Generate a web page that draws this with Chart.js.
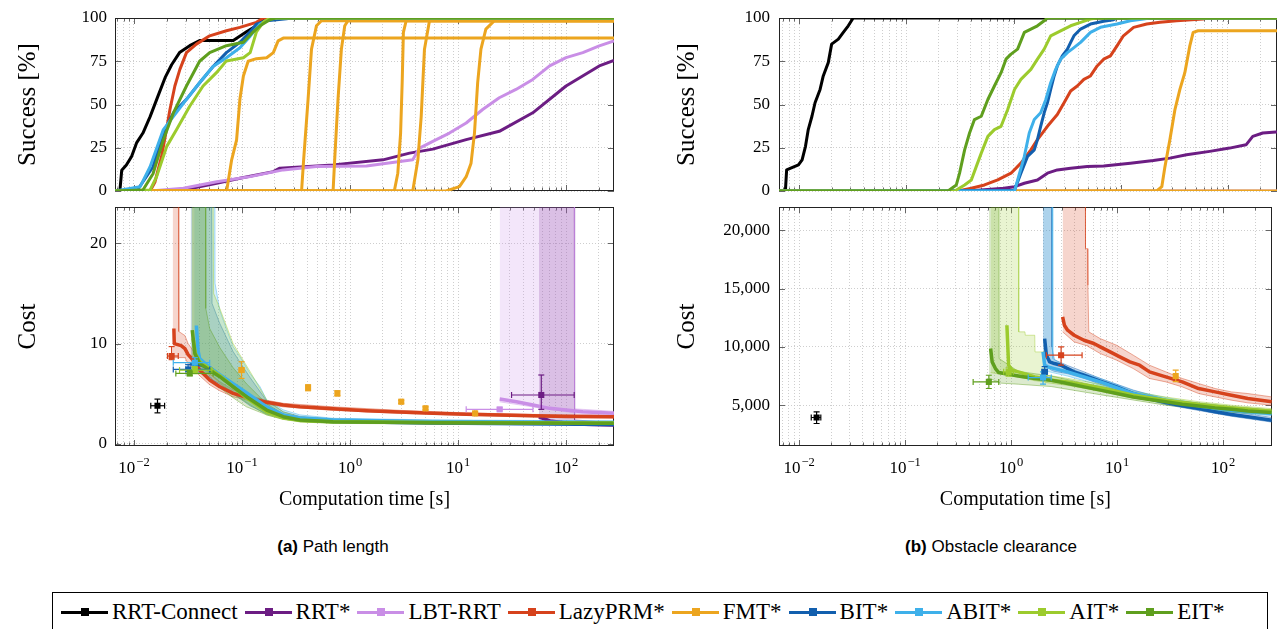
<!DOCTYPE html>
<html>
<head>
<meta charset="utf-8">
<script src="https://cdn.jsdelivr.net/npm/chart.js@4.4.1/dist/chart.umd.min.js"></script>
<style>
body{margin:0;background:#fff;width:1277px;height:629px;overflow:hidden;position:relative}
canvas{position:absolute}
.cap{position:absolute;top:537px;width:420px;text-align:center;font-family:'Liberation Sans',Arial,sans-serif;font-size:17px;color:#000}
#legend{position:absolute;left:52px;top:592px;width:1216px;height:44px;border:1px solid #000;box-sizing:border-box;display:flex;align-items:flex-start;padding:6px 0 0 8px;font-family:'Liberation Serif',serif;font-size:23px;color:#000;white-space:nowrap}
#legend .it{display:flex;align-items:center;margin-right:7px}
#legend .gl{position:relative;width:47px;height:3px;margin-right:4px}
#legend .gl i{position:absolute;left:20px;top:-3px;width:8px;height:8px;background:inherit}
</style>
</head>
<body>
<canvas id="cA1" width="620" height="200" style="left:0;top:0"></canvas>
<canvas id="cA2" width="620" height="310" style="left:0;top:200px"></canvas>
<canvas id="cB1" width="617" height="200" style="left:660px;top:0"></canvas>
<canvas id="cB2" width="617" height="310" style="left:660px;top:200px"></canvas>
<div class="cap" style="left:123px"><b>(a)</b> Path length</div>
<div class="cap" style="left:781px"><b>(b)</b> Obstacle clearance</div>
<div id="legend"></div>
<script>
// planners, legend order
const planners = ['RRT-Connect', 'RRT*', 'LBT-RRT', 'LazyPRM*', 'FMT*', 'BIT*', 'ABIT*', 'AIT*', 'EIT*'];
const colors = ['#000000', '#6c1d83', '#c98ee6', '#d6421c', '#eca51f', '#125fae', '#3eb0ea', '#9ccb2d', '#5f9f1e'];

// axis ticks
const xTickVals = [0.01, 0.1, 1, 10, 100];
const xTickBase = '10';
const xTickExps = ['\u22122', '\u22121', '0', '1', '2'];
const succTicks = [0, 25, 50, 75, 100];
const costTicksA = [0, 10, 20];
const costTicksB = [5000, 10000, 15000, 20000];

// (a) path length, success [%] vs time [s]
const succA_rrtc = [[0.00667,0],[0.0074,0],[0.0077,12],[0.0085,15],[0.0095,20],[0.0106,28],[0.0121,33.5],[0.0141,43],[0.0167,55],[0.0194,65.5],[0.0223,73],[0.0264,80],[0.0328,84],[0.0405,87],[0.083,87],[0.11,92],[0.136,95.5],[0.157,100],[278,100]];
const succA_rrts = [[0.00667,0],[0.0151,0],[0.0287,0.6],[0.0583,4.5],[0.0956,7.4],[0.195,11.2],[0.224,13.2],[0.697,15.1],[2.02,18],[3.56,21.9],[5.84,24.2],[11.9,29.7],[24.1,34.5],[49.2,45.2],[100,60.7],[203,72.3],[278,75.5]];
const succA_lbt = [[0.00667,0],[0.0142,0],[0.0287,1.6],[0.0583,5.4],[0.119,8.3],[0.241,12.2],[0.489,14.1],[1.42,14.5],[3.81,18],[4.4,24.8],[5.84,28.7],[8.32,33.5],[11.9,39.3],[16.9,47.1],[24.1,53.9],[34.4,58.7],[49.2,64.5],[70.5,72.3],[100,77.1],[143,80],[203,83.9],[278,86.8]];
const succA_lazy = [[0.00667,0],[0.0141,0],[0.0156,5],[0.018,20],[0.0201,36.4],[0.0215,47],[0.0239,60.7],[0.0266,70.3],[0.0306,80],[0.0378,84.9],[0.0502,89.7],[0.0717,92.6],[0.0956,94.6],[0.136,97.5],[0.157,100],[278,100]];
const succA_fmt1 = [[0.00667,0],[0.0721,0],[0.0802,18],[0.0891,29.6],[0.0956,53],[0.103,66.5],[0.114,75],[0.136,76.5],[0.169,77],[0.195,80],[0.216,86.8],[0.241,88.4],[278,88.4]];
const succA_fmt2 = [[0.00667,0],[0.356,0],[0.372,18],[0.409,53],[0.44,82],[0.489,95.5],[0.544,98.4],[278,98.4]];
const succA_fmt3 = [[0.00667,0],[0.697,0],[0.721,18],[0.774,53],[0.832,82],[0.894,95.5],[0.956,98.4],[278,98.4]];
const succA_fmt4 = [[0.00667,0],[2.57,0],[2.77,10.3],[2.94,33.5],[3.04,62.6],[3.12,91.7],[3.31,98.4],[278,98.4]];
const succA_fmt5 = [[0.00667,0],[3.81,0],[4.25,18],[4.56,43],[4.89,82],[5.44,98.4],[278,98.4]];
const succA_fmt6 = [[0.00667,0],[7.76,0],[10.3,2.5],[11.9,8.3],[13.2,16.1],[14.2,33.5],[15.2,62.6],[16.3,82],[18.1,93.6],[21.7,98.4],[278,98.4]];
const succA_bit = [[0.00667,0],[0.0106,0],[0.015,14],[0.0187,33.5],[0.0231,45],[0.0306,53],[0.0405,62.6],[0.054,72],[0.0717,80],[0.0956,86],[0.119,92],[0.136,96.5],[0.169,98.4],[0.258,99.5],[0.283,100],[278,100]];
const succA_abit = [[0.00667,0],[0.0114,2.5],[0.0141,14],[0.0187,35.5],[0.0231,43],[0.0306,53],[0.0405,62.6],[0.054,72],[0.0717,77],[0.0956,82.8],[0.119,89.5],[0.147,96.5],[0.181,99.4],[0.221,100],[278,100]];
const succA_ait = [[0.00667,0],[0.0141,0.6],[0.0162,8.3],[0.0201,25.8],[0.0248,35.5],[0.0328,49],[0.0436,60.7],[0.058,68.4],[0.0717,75.2],[0.103,77],[0.119,80],[0.136,92],[0.157,97.5],[0.181,100],[278,100]];
const succA_eit = [[0.00667,0],[0.0121,0.6],[0.015,10],[0.0187,29.6],[0.0231,45],[0.0306,60.7],[0.0405,75],[0.0502,80],[0.0717,84],[0.103,86],[0.127,92],[0.147,95.5],[0.181,99],[0.204,100],[278,100]];

// (b) obstacle clearance, success [%] vs time [s]
const succB_rrtc = [[0.00645,0],[0.0074,0],[0.0076,12.2],[0.0098,15.1],[0.0106,18],[0.0114,25.8],[0.0121,35.5],[0.0131,43.2],[0.014,51],[0.0156,58.7],[0.0167,66.5],[0.0186,74.2],[0.02,84.9],[0.0231,87.8],[0.0257,91.7],[0.0286,95.5],[0.0318,100],[288,100]];
const succB_rrts = [[0.00645,0],[0.375,0],[0.81,1.6],[1.02,2.5],[1.26,4.5],[1.67,6.4],[2.07,10.3],[2.56,12.2],[3.41,13.2],[4.87,14.1],[6.93,14.5],[12.3,16.1],[20.2,17.6],[28.8,19],[41.2,20.9],[67.8,22.9],[104,24.8],[148,26.7],[171,31.6],[212,33.5],[282,34.1],[288,34.1]];
const succB_lbt = [[0.00645,0],[288,0]];
const succB_lazy = [[0.00645,0],[0.303,0],[0.403,1.6],[0.535,3.5],[0.711,6.4],[0.946,10.3],[1.17,16.1],[1.45,23.8],[1.67,29.7],[2.07,37.4],[2.56,44.2],[2.96,51],[3.41,57.8],[3.93,60.7],[4.53,64.5],[5.22,66.5],[6.03,72.3],[6.93,76.2],[8.02,78.1],[9.24,83.9],[10.6,89.7],[13.2,94.6],[17.5,96.5],[23.3,97.5],[33.3,98.4],[58.7,99.4],[63,100],[288,100]];
const succB_fmt0 = [[0.00645,0],[288,0]];
const succB_fmt = [[0.00645,0],[21.7,0],[24.2,2.5],[25.9,14.1],[28.8,29.7],[32.1,47.1],[35.7,58.7],[39.7,68.4],[44.2,83.9],[47.5,91.7],[52.8,92.6],[288,92.6]];
const succB_bit = [[0.00645,0],[1.02,0.5],[1.17,10.3],[1.35,20],[1.56,23.8],[1.67,29.7],[1.79,37.4],[1.93,45.2],[2.07,51],[2.22,58.7],[2.39,66.5],[2.56,72.3],[2.85,78.1],[3.18,82],[3.41,85.9],[3.66,89.7],[4.22,93.6],[5.22,96.5],[6.93,98.1],[8.59,99],[9.24,100],[288,100]];
const succB_abit = [[0.00645,0],[1.02,0],[1.26,20],[1.40,33.5],[1.56,41.3],[1.79,45.2],[2.0,52.9],[2.22,62.6],[2.47,70.3],[2.75,76.2],[3.18,80],[3.66,82.9],[4.22,85.9],[5.22,91.7],[6.47,94.6],[9.24,96.5],[12.3,98.4],[16.3,99.4],[18.8,100],[288,100]];
const succB_ait = [[0.00645,0],[0.282,0],[0.349,3.5],[0.403,6.4],[0.448,14.1],[0.499,21.9],[0.575,31.6],[0.662,35.5],[0.764,37.4],[0.881,47.1],[1.02,58.7],[1.17,64.5],[1.45,70.3],[1.67,76.2],[1.93,82],[2.22,89.7],[2.75,92.6],[3.41,95.5],[4.22,97.5],[5.22,99.4],[6,100],[288,100]];
const succB_eit = [[0.00645,0],[0.244,0],[0.292,3.5],[0.313,10.3],[0.349,23.8],[0.388,33.5],[0.431,41.3],[0.499,43.2],[0.575,52.9],[0.662,60.7],[0.764,68.4],[0.849,76.2],[0.946,79.1],[1.09,82],[1.26,91.7],[1.45,93.6],[1.67,95.5],[1.93,98.4],[2.07,100],[288,100]];

// (a) path length, median cost [t, cost] and bands [t, lo, hi]
const costA_rrts = [[56,2.7],[71,2.3],[119,2.0],[278,1.9]];
const costA_lbt = [[24.3,4.48],[34.7,4.21],[49.4,3.88],[70.5,3.55],[100,3.38],[143,3.22],[278,3.05]];
const costA_lazy = [[0.0234,11.5],[0.0236,10.0],[0.0273,9.8],[0.0296,9.5],[0.0317,8.9],[0.0352,8.36],[0.0405,7.36],[0.0502,6.37],[0.0623,5.7],[0.0827,5.04],[0.119,4.54],[0.169,4.15],[0.241,3.88],[0.343,3.72],[0.697,3.52],[1.42,3.32],[2.88,3.18],[5.84,3.05],[11.9,2.95],[24.3,2.89],[49.4,2.82],[100,2.75],[278,2.72]];
const costA_bit = [[0.0328,8.0],[0.0405,7.9],[0.0502,7.6],[0.0623,6.8],[0.0827,5.9],[0.11,5.0],[0.169,3.5],[0.241,2.8],[0.343,2.45],[0.697,2.25],[5.84,2.1],[278,1.95]];
const costA_abit = [[0.0378,11.8],[0.0392,9.3],[0.0405,8.5],[0.0502,7.6],[0.0623,6.9],[0.0827,6.0],[0.11,5.1],[0.169,3.7],[0.241,2.9],[0.343,2.6],[0.697,2.4],[5.84,2.25],[278,2.15]];
const costA_ait = [[0.0352,10.5],[0.037,9.0],[0.0405,8.2],[0.0502,7.5],[0.0623,6.8],[0.0827,5.7],[0.11,4.6],[0.169,3.2],[0.241,2.6],[0.343,2.35],[0.697,2.22],[5.84,2.15],[278,2.1]];
const costA_eit = [[0.0346,11.34],[0.0366,9.02],[0.0405,8.03],[0.0502,7.36],[0.0623,6.7],[0.0827,5.7],[0.11,4.71],[0.169,3.38],[0.241,2.72],[0.343,2.39],[0.697,2.22],[5.84,2.12],[278,2.06]];
const bandA_rrts = [[56,2.0,30],[119,1.9,30],[120,1.85,2.4],[278,1.8,2.1]];
const bandA_lbt = [[24.3,4.2,30],[56,3.6,30],[119,3.1,30],[120,3.0,3.5],[278,2.85,3.25]];
const bandA_lazy = [[0.0228,8.6,30],[0.0257,8.6,30],[0.026,8.6,11.2],[0.0296,8.6,10.8],[0.0317,8.0,10.0],[0.0352,7.5,9.3],[0.0405,6.8,8.2],[0.0502,5.9,7.0],[0.0623,5.3,6.2],[0.0827,4.7,5.4],[0.119,4.3,4.8],[0.169,3.95,4.35],[0.241,3.7,4.05],[0.697,3.35,3.7],[2.88,3.05,3.35],[11.9,2.85,3.1],[49.4,2.7,2.95],[278,2.6,2.85]];
const bandA_bit = [[0.0334,7.4,30],[0.0519,6.6,30],[0.0528,6.4,14],[0.0623,6.0,12],[0.0827,5.0,9.2],[0.119,3.8,6.6],[0.169,3.0,4.3],[0.241,2.6,3.2],[0.343,2.35,2.75],[0.697,2.15,2.5],[5.84,2.0,2.3],[278,1.85,2.1]];
const bandA_abit = [[0.0361,7.8,30],[0.056,6.8,30],[0.0563,6.6,16],[0.0623,6.2,13.3],[0.0704,5.7,11.7],[0.0827,5.1,9.7],[0.0956,4.6,8.7],[0.119,3.9,7.0],[0.147,3.3,5.7],[0.169,3.0,4.4],[0.241,2.6,3.4],[0.343,2.4,2.9],[0.697,2.2,2.56],[5.84,2.1,2.4],[278,2.0,2.3]];
const bandA_ait = [[0.0343,7.5,30],[0.0537,6.8,30],[0.0546,6.6,15],[0.0623,6.1,13.5],[0.0827,5.0,10],[0.119,3.9,7.2],[0.169,2.9,4.4],[0.241,2.45,3.2],[0.343,2.25,2.7],[0.697,2.1,2.45],[5.84,2.05,2.3],[278,2.0,2.2]];
const bandA_eit = [[0.034,7.6,30],[0.0458,7.0,30],[0.0462,6.8,13.5],[0.0502,6.3,11.5],[0.0623,5.6,9.6],[0.0827,4.6,7.6],[0.11,3.7,6.0],[0.169,2.9,4.0],[0.241,2.45,3.0],[0.343,2.2,2.6],[0.697,2.05,2.4],[5.84,2.0,2.25],[278,1.95,2.15]];
// initial solutions [t, cost, tLo, tHi, costLo, costHi]
const firstA_rrtc = [[0.0165,3.81,0.0143,0.0192,3.1,4.47]];
const firstA_rrts = [[59,4.88,31.3,119,3.45,6.87]];
const firstA_lbt = [[24.3,3.45,11.9,49.4,3.3,3.6]];
const firstA_lazy = [[0.0223,8.76,0.0204,0.0257,8.4,9.7]];
const firstA_fmt = [[0.099,7.36,0.094,0.104,6.53,8.19],[0.409,5.6,0.398,0.42,5.3,5.9],[0.764,5.04,0.743,0.779,4.8,5.3],[2.98,4.21,2.92,3.05,4.05,4.35],[5.0,3.55,4.87,5.13,3.4,3.7],[14.4,3.05,14.2,14.7,2.95,3.15]];
const firstA_bit = [[0.0317,7.43,0.0231,0.0502,7.0,7.9]];
const firstA_abit = [[0.0366,8.1,0.0231,0.0502,7.6,8.6]];
const firstA_ait = [[0.0366,7.36,0.0264,0.0528,7.0,7.7]];
const firstA_eit = [[0.0328,7.03,0.0244,0.054,6.8,7.3]];

// (b) obstacle clearance, median cost and bands
const costB_lazy = [[3.06,12570],[3.18,11860],[3.41,11430],[3.93,11000],[4.87,10570],[6.03,10290],[6.93,10000],[8.59,9570],[10.6,9140],[13.2,8714],[16.3,8430],[20.2,7860],[28.8,7430],[41.2,7000],[58.7,6430],[84,6140],[120,5860],[171,5570],[288,5290]];
const costB_bit = [[2.07,10710],[2.15,9290],[2.31,8714],[2.56,8570],[2.96,8430],[3.41,8140],[3.93,7860],[4.87,7570],[6.93,7060],[9.9,6570],[14.2,6000],[20.2,5570],[28.8,5230],[41.2,4940],[58.7,4710],[84,4430],[120,4200],[171,4000],[288,3710]];
const costB_abit = [[2.0,9570],[2.07,8430],[2.22,8290],[2.56,8140],[3.41,7860],[4.87,7430],[6.93,7000],[14.2,6000],[28.8,5430],[58.7,4940],[120,4570],[288,4290]];
const costB_ait = [[0.912,11860],[0.946,8430],[1.02,8000],[1.17,7860],[1.67,7430],[2.39,7140],[3.41,7000],[6.93,6490],[14.2,5860],[28.8,5430],[58.7,5060],[120,4770],[288,4480]];
const costB_eit = [[0.64,9857],[0.662,8714],[0.711,8140],[0.764,7800],[1.17,7510],[1.67,7290],[2.39,7140],[3.41,6860],[4.87,6570],[6.93,6290],[9.9,6000],[14.2,5710],[20.2,5490],[28.8,5290],[41.2,5090],[58.7,4940],[84,4770],[120,4660],[171,4510],[288,4370]];
const bandB_lazy = [[3.06,11290,30000],[3.93,10430,30000],[5.0,10140,30000],[5.03,10140,18430],[5.25,10100,18430],[5.3,10050,15290],[5.4,10000,11290],[6.93,9430,10710],[9.9,8860,10140],[14.2,8140,9290],[20.2,7290,8430],[28.8,7000,7860],[41.2,6570,7290],[58.7,6000,6860],[84,5710,6430],[120,5430,6140],[171,5200,6000],[288,5000,5710]];
const bandB_bit = [[2.0,8500,30000],[2.4,8000,30000],[2.42,8000,10000],[2.56,7900,8900],[3.41,7700,8400],[4.87,7300,7860],[6.93,6800,7300],[14.2,5800,6300],[28.8,5050,5500],[58.7,4550,4950],[120,4050,4450],[288,3550,3950]];
const bandB_abit = [[2.0,8000,30000],[2.45,7800,30000],[2.47,7800,9000],[3.41,7500,8200],[6.93,6700,7300],[14.2,5800,6250],[28.8,5200,5650],[58.7,4750,5150],[120,4400,4800],[288,4100,4500]];
const bandB_ait = [[0.64,7800,30000],[1.17,7400,30000],[1.18,7400,11290],[1.35,7300,11290],[1.36,7300,11000],[1.67,7100,11000],[1.68,7100,9570],[2.07,7000,9570],[2.1,6950,7600],[3.41,6700,7300],[6.93,6200,6800],[14.2,5600,6150],[28.8,5200,5700],[58.7,4850,5300],[120,4550,5000],[288,4250,4700]];
const bandB_eit = [[0.616,7300,30000],[0.764,7000,30000],[0.77,6900,9000],[1.17,6800,7900],[2.39,6600,7500],[6.93,5900,6600],[28.8,5000,5500],[120,4400,4900],[288,4200,4600]];
const firstB_rrtc = [[0.0146,3943,0.013,0.016,3430,4430]];
const firstB_lazy = [[2.96,9290,2.15,4.67,8430,10000]];
const firstB_fmt = [[35.7,7510,34.5,37,7020,8000]];
const firstB_bit = [[2.07,7860,1.95,2.2,7400,8300]];
const firstB_abit = [[2.0,7370,1.45,2.39,6800,7860]];
const firstB_ait = [[0.946,7860,0.85,1.05,7500,8200]];
const firstB_eit = [[0.616,7000,0.438,0.764,6430,7570]];

const serif = "'Liberation Serif', 'Times New Roman', serif";
const xGrid = [];
for (let e = -3; e <= 2; e++) for (let m = 1; m <= 9; m++) xGrid.push(m * Math.pow(10, e));
const isDecade = v => Math.abs(Math.log10(v) - Math.round(Math.log10(v))) < 1e-9;

function rgba(hex, a) {
  const n = parseInt(hex.slice(1), 16);
  return `rgba(${n >> 16},${(n >> 8) & 255},${n & 255},${a})`;
}
const pts = a => a.map(p => ({x: p[0], y: p[1]}));

function curve(data, k, w) {
  return {data: pts(data), borderColor: colors[k], borderWidth: w, pointRadius: 0, fill: false, order: 200 - k, borderJoinStyle: 'round'};
}
function band(data, k) {
  const lo = {data: data.map(r => ({x: r[0], y: r[1]})), borderColor: rgba(colors[k], 0.55), borderWidth: 0.8, pointRadius: 0, fill: false, order: 300 - k};
  const hi = {data: data.map(r => ({x: r[0], y: r[2]})), borderColor: rgba(colors[k], 0.55), borderWidth: 0.8, pointRadius: 0, fill: '-1', backgroundColor: rgba(colors[k], 0.22), order: 300 - k};
  return [lo, hi];
}
function firsts(rows, k) {
  const out = [];
  const c = colors[k];
  rows.forEach(r => {
    out.push({data: [{x: r[2], y: r[1]}, {x: r[3], y: r[1]}], borderColor: c, borderWidth: 1.2, pointStyle: 'line', pointRotation: 90, pointRadius: 3, pointBorderWidth: 1.2, pointBorderColor: c, order: 100 - k});
    out.push({data: [{x: r[0], y: r[4]}, {x: r[0], y: r[5]}], borderColor: c, borderWidth: 1.2, pointStyle: 'line', pointRotation: 0, pointRadius: 3, pointBorderWidth: 1.2, pointBorderColor: c, order: 100 - k});
    out.push({data: [{x: r[0], y: r[1]}], showLine: false, pointStyle: 'rect', pointRadius: 4.3, pointBackgroundColor: c, pointBorderColor: c, pointBorderWidth: 0, order: 99 - k});
  });
  return out;
}

// box, inward tick marks and 10^n labels
const frame = {
  id: 'frame',
  beforeDatasetsDraw(chart) {
    const {ctx, chartArea: a, scales: {x, y}} = chart;
    ctx.save();
    ctx.strokeStyle = '#666';
    ctx.lineWidth = 1;
    ctx.beginPath();
    x.ticks.forEach(t => {
      const px = Math.round(x.getPixelForValue(t.value)) + 0.5;
      const L = isDecade(t.value) ? 6 : 3.5;
      ctx.moveTo(px, a.bottom); ctx.lineTo(px, a.bottom - L);
      ctx.moveTo(px, a.top); ctx.lineTo(px, a.top + L);
    });
    y.ticks.forEach(t => {
      const py = Math.round(y.getPixelForValue(t.value)) + 0.5;
      ctx.moveTo(a.left, py); ctx.lineTo(a.left + 6, py);
      ctx.moveTo(a.right, py); ctx.lineTo(a.right - 6, py);
    });
    ctx.stroke();
    ctx.strokeStyle = '#222';
    ctx.strokeRect(Math.round(a.left) + 0.5, Math.round(a.top) + 0.5, Math.round(a.width) - 1, Math.round(a.height) - 1);
    ctx.restore();
  },
  afterDraw(chart, args, opts) {
    if (!opts.xLabels) return;
    const {ctx, chartArea: a, scales: {x}} = chart;
    ctx.save();
    ctx.fillStyle = '#000';
    ctx.textBaseline = 'alphabetic';
    ctx.textAlign = 'left';
    xTickVals.forEach((v, i) => {
      if (v < x.min || v > x.max) return;
      const px = x.getPixelForValue(v);
      ctx.font = `17px ${serif}`;
      const w1 = ctx.measureText(xTickBase).width;
      ctx.font = `12.5px ${serif}`;
      const w2 = ctx.measureText(xTickExps[i]).width;
      const left = px - (w1 + w2 + 1) / 2;
      ctx.font = `17px ${serif}`;
      ctx.fillText(xTickBase, left, a.bottom + 27);
      ctx.font = `12.5px ${serif}`;
      ctx.fillText(xTickExps[i], left + w1 + 1, a.bottom + 20);
    });
    ctx.restore();
  }
};

function panel(id, o) {
  return new Chart(document.getElementById(id), {
    type: 'line',
    data: {datasets: o.datasets},
    options: {
      responsive: false,
      animation: false,
      events: [],
      layout: {padding: {top: o.padTop, right: o.padRight, left: 0, bottom: 0}},
      plugins: {legend: {display: false}, tooltip: {enabled: false}, frame: {xLabels: o.showX}},
      scales: {
        x: {
          type: 'logarithmic', min: o.xMin, max: o.xMax,
          afterBuildTicks: s => { s.ticks = xGrid.filter(v => v >= s.min * 0.999 && v <= s.max * 1.001).map(v => ({value: v})); },
          afterFit: s => { s.height = o.xHeight; s.paddingLeft = 0; s.paddingRight = 0; },
          grid: {color: '#c2c2c2', lineWidth: 0.8, drawTicks: false},
          border: {display: false, dash: [1, 2]},
          ticks: {display: false},
          title: {display: o.showX, text: 'Computation time [s]', color: '#000', font: {family: serif, size: 20, lineHeight: 1}, padding: {top: 0, bottom: 0}}
        },
        y: {
          min: o.yMin, max: o.yMax,
          afterBuildTicks: s => { s.ticks = o.yTicks.map(v => ({value: v})); },
          afterFit: s => { s.width = o.yWidth; s.paddingTop = 0; s.paddingBottom = 0; },
          grid: {color: '#c2c2c2', lineWidth: 0.8, drawTicks: false},
          border: {display: false, dash: [1, 2]},
          ticks: {padding: o.yPad, color: '#000', font: {family: serif, size: 17}, callback: v => v.toLocaleString('en-US')},
          title: {display: true, text: o.yTitle, color: '#000', font: {family: serif, size: 25, lineHeight: 1.2}, padding: {top: o.titlePad, bottom: 0}}
        }
      }
    },
    plugins: [frame]
  });
}

// (a) success
panel('cA1', {
  padTop: 18, padRight: 6, xMin: 0.00667, xMax: 278, xHeight: 9, showX: false,
  yMin: 0, yMax: 100, yTicks: succTicks, yWidth: 115, yPad: 8, yTitle: 'Success [%]', titlePad: 13,
  datasets: [
    curve(succA_rrtc, 0, 3), curve(succA_rrts, 1, 3), curve(succA_lbt, 2, 3), curve(succA_lazy, 3, 3),
    curve(succA_fmt1, 4, 3), curve(succA_fmt2, 4, 3), curve(succA_fmt3, 4, 3),
    curve(succA_fmt4, 4, 3), curve(succA_fmt5, 4, 3), curve(succA_fmt6, 4, 3),
    curve(succA_bit, 5, 3), curve(succA_abit, 6, 3), curve(succA_ait, 7, 3), curve(succA_eit, 8, 3)
  ]
});

// (a) cost
panel('cA2', {
  padTop: 7, padRight: 6, xMin: 0.00667, xMax: 278, xHeight: 64, showX: true,
  yMin: -0.2, yMax: 23.6, yTicks: costTicksA, yWidth: 115, yPad: 8, yTitle: 'Cost', titlePad: 13,
  datasets: [
    ...band(bandA_rrts, 1), ...band(bandA_lbt, 2), ...band(bandA_lazy, 3),
    ...band(bandA_bit, 5), ...band(bandA_abit, 6), ...band(bandA_ait, 7), ...band(bandA_eit, 8),
    curve(costA_rrts, 1, 3.5), curve(costA_lbt, 2, 3.5), curve(costA_lazy, 3, 3.5),
    curve(costA_bit, 5, 3.5), curve(costA_abit, 6, 3.5), curve(costA_ait, 7, 3.5), curve(costA_eit, 8, 3.5),
    ...firsts(firstA_rrtc, 0), ...firsts(firstA_rrts, 1), ...firsts(firstA_lbt, 2), ...firsts(firstA_lazy, 3),
    ...firsts(firstA_fmt, 4), ...firsts(firstA_bit, 5), ...firsts(firstA_abit, 6), ...firsts(firstA_ait, 7), ...firsts(firstA_eit, 8)
  ]
});

// (b) success
panel('cB1', {
  padTop: 18, padRight: 0, xMin: 0.00645, xMax: 288, xHeight: 9, showX: false,
  yMin: 0, yMax: 100, yTicks: succTicks, yWidth: 119, yPad: 9, yTitle: 'Success [%]', titlePad: 12,
  datasets: [
    curve(succB_rrtc, 0, 3), curve(succB_rrts, 1, 3), curve(succB_lbt, 2, 3), curve(succB_lazy, 3, 3),
    curve(succB_fmt0, 4, 3), curve(succB_fmt, 4, 3),
    curve(succB_bit, 5, 3), curve(succB_abit, 6, 3), curve(succB_ait, 7, 3), curve(succB_eit, 8, 3)
  ]
});

// (b) cost
panel('cB2', {
  padTop: 7, padRight: 0, xMin: 0.00645, xMax: 288, xHeight: 64, showX: true,
  yMin: 1500, yMax: 22000, yTicks: costTicksB, yWidth: 119, yPad: 9, yTitle: 'Cost', titlePad: 12,
  datasets: [
    ...band(bandB_lazy, 3), ...band(bandB_bit, 5), ...band(bandB_abit, 6), ...band(bandB_ait, 7), ...band(bandB_eit, 8),
    curve(costB_lazy, 3, 3.5), curve(costB_bit, 5, 3.5), curve(costB_abit, 6, 3.5), curve(costB_ait, 7, 3.5), curve(costB_eit, 8, 3.5),
    ...firsts(firstB_rrtc, 0), ...firsts(firstB_lazy, 3), ...firsts(firstB_fmt, 4), ...firsts(firstB_bit, 5),
    ...firsts(firstB_abit, 6), ...firsts(firstB_ait, 7), ...firsts(firstB_eit, 8)
  ]
});

// legend
const legend = document.getElementById('legend');
planners.forEach((name, k) => {
  const it = document.createElement('span');
  it.className = 'it';
  const gl = document.createElement('span');
  gl.className = 'gl';
  gl.style.background = colors[k];
  gl.appendChild(document.createElement('i'));
  it.appendChild(gl);
  it.appendChild(document.createTextNode(name));
  legend.appendChild(it);
});
</script>
</body>
</html>
